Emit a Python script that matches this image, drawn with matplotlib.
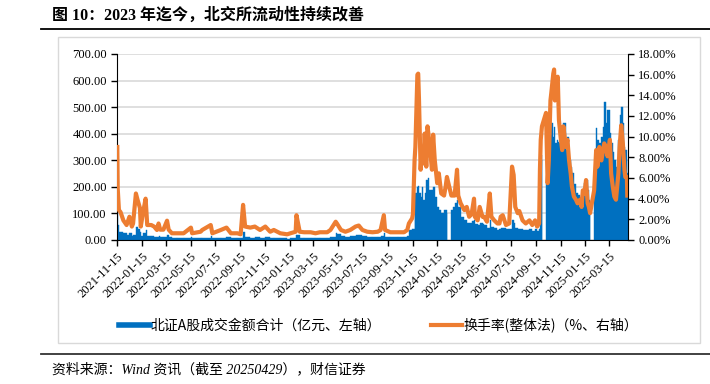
import pandas as pd
import matplotlib
matplotlib.use('Agg')
import matplotlib.pyplot as plt
from matplotlib.lines import Line2D
from matplotlib.patches import Rectangle
from matplotlib.ticker import FuncFormatter, MultipleLocator
import matplotlib.dates as mdates

plt.rcParams['font.family'] = ['Liberation Serif', 'Noto Sans CJK SC']

dates = [
    '2021-11-15', '2021-11-16', '2021-11-19', '2021-11-23', '2021-11-30', '2021-12-08', '2021-12-15',
    '2021-12-21', '2021-12-24', '2021-12-31', '2022-01-04', '2022-01-10', '2022-01-12', '2022-01-17',
    '2022-01-24', '2022-01-28', '2022-02-07', '2022-02-14', '2022-02-21', '2022-02-25', '2022-03-01',
    '2022-03-09', '2022-03-18', '2022-03-22', '2022-03-30', '2022-04-12', '2022-04-28', '2022-05-16',
    '2022-05-19', '2022-06-09', '2022-06-13', '2022-07-04', '2022-07-08', '2022-07-29', '2022-08-12',
    '2022-08-23', '2022-09-08', '2022-09-16', '2022-09-22', '2022-09-27', '2022-10-10', '2022-10-21',
    '2022-11-03', '2022-11-16', '2022-11-28', '2022-12-07', '2022-12-23', '2023-01-09', '2023-01-17',
    '2023-01-30', '2023-02-01', '2023-02-03', '2023-02-09', '2023-02-20', '2023-03-08', '2023-03-20',
    '2023-03-31', '2023-04-18', '2023-04-26', '2023-05-09', '2023-05-12', '2023-05-22', '2023-06-02',
    '2023-06-14', '2023-06-27', '2023-07-05', '2023-07-14', '2023-07-26', '2023-08-08', '2023-08-21',
    '2023-08-28', '2023-09-05', '2023-09-08', '2023-09-21', '2023-10-09', '2023-10-25', '2023-11-02',
    '2023-11-06', '2023-11-14', '2023-11-16', '2023-11-20', '2023-11-22', '2023-11-27', '2023-11-29',
    '2023-12-01', '2023-12-05', '2023-12-08', '2023-12-12', '2023-12-15', '2023-12-19', '2023-12-22',
    '2023-12-26', '2024-01-02', '2024-01-05', '2024-01-09', '2024-01-15', '2024-01-19', '2024-01-25',
    '2024-02-01', '2024-02-05', '2024-02-08', '2024-02-19', '2024-02-22', '2024-02-27', '2024-03-04',
    '2024-03-07', '2024-03-13', '2024-03-22', '2024-03-28', '2024-04-03', '2024-04-09', '2024-04-15',
    '2024-04-17', '2024-04-24', '2024-04-29', '2024-05-06', '2024-05-10', '2024-05-17', '2024-05-24',
    '2024-05-28', '2024-06-04', '2024-06-12', '2024-06-17', '2024-06-20', '2024-06-25', '2024-07-03',
    '2024-07-11', '2024-07-18', '2024-07-22', '2024-07-26', '2024-08-01', '2024-08-05', '2024-08-13',
    '2024-08-21', '2024-08-30', '2024-09-06', '2024-09-13', '2024-09-18', '2024-09-23', '2024-09-25',
    '2024-09-27', '2024-09-30', '2024-10-10', '2024-10-14', '2024-10-17', '2024-10-21', '2024-10-23',
    '2024-10-28', '2024-10-30', '2024-11-01', '2024-11-05', '2024-11-08', '2024-11-11', '2024-11-15',
    '2024-11-19', '2024-11-22', '2024-11-28', '2024-12-02', '2024-12-06', '2024-12-10', '2024-12-13',
    '2024-12-18', '2024-12-23', '2024-12-27', '2025-01-02', '2025-01-06', '2025-01-09', '2025-01-13',
    '2025-01-17', '2025-01-21', '2025-01-24', '2025-01-27', '2025-02-06', '2025-02-11', '2025-02-14',
    '2025-02-19', '2025-02-24', '2025-02-27', '2025-03-03', '2025-03-07', '2025-03-11', '2025-03-17',
    '2025-03-20', '2025-03-24', '2025-03-28', '2025-04-01', '2025-04-07', '2025-04-10', '2025-04-14',
    '2025-04-18', '2025-04-22', '2025-04-24', '2025-04-28', '2025-04-29',
]

# 北证A股成交金额合计 (亿元)
amount = [
    101, 55, 31, 30, 25, 18, 28,
    15, 18, 50, 40, 30, 15, 25,
    38, 15, 14, 12, 10, 15, 10,
    10, 20, 10, 8, 7, 7, 12,
    7, 8, 9, 14, 7, 9, 11,
    7, 7, 6, 30, 13, 9, 10,
    8, 10, 7, 8, 6, 5, 6,
    7, 20, 17, 7, 7, 7, 6,
    8, 9, 12, 25, 22, 15, 12,
    15, 18, 18, 14, 12, 10, 11,
    14, 25, 13, 10, 10, 10, 14,
    38, 40, 40, 120, 176, 200, 205,
    176, 163, 200, 150, 176, 226, 232,
    188, 188, 200, 160, 125, 113, 100,
    113, 113, 100, 113, 125, 138, 150,
    125, 88, 75, 63, 63, 70, 75,
    60, 57, 63, 60, 55, 44, 75,
    50, 44, 38, 40, 44, 45, 40,
    42, 75, 65, 45, 40, 42, 38,
    38, 40, 35, 40, 35, 40, 100,
    300, 320, 213, 213, 326, 389, 439,
    389, 426, 364, 376, 370, 364, 376,
    364, 439, 339, 389, 301, 276, 251,
    210, 176, 170, 163, 170, 176, 213,
    226, 190, 150, 125, 238, 420, 376,
    364, 389, 426, 520, 439, 489, 401,
    364, 330, 301, 276, 376, 470, 502,
    439, 351, 340, 301, 251,
]

# 换手率(整体法) (%)
turnover = [
    9.0, 5.0, 2.9, 2.7, 1.9, 1.45, 2.25,
    1.3, 1.6, 4.5, 3.9, 3.1, 1.3, 2.5,
    4.0, 1.45, 1.45, 1.3, 0.97, 1.6, 1.0,
    1.0, 1.87, 1.0, 0.65, 0.65, 0.65, 1.2,
    0.65, 0.8, 0.97, 1.45, 0.65, 0.97, 1.2,
    0.65, 0.65, 0.55, 3.4, 1.3, 1.2, 1.3,
    0.97, 1.3, 0.8, 0.97, 0.65, 0.55, 0.65,
    0.8, 2.4, 2.0, 0.8, 0.75, 0.75, 0.65,
    0.75, 0.75, 0.97, 1.77, 1.6, 0.97, 0.8,
    0.97, 1.3, 1.4, 0.97, 0.8, 0.75, 0.8,
    0.97, 2.4, 0.97, 0.75, 0.75, 0.75, 0.97,
    1.6, 2.1, 2.5, 7.7, 9.0, 16.0, 16.1,
    13.5, 6.8, 8.7, 7.4, 10.3, 7.1, 11.0,
    9.7, 6.8, 10.2, 7.7, 5.5, 6.45, 4.5,
    4.3, 5.2, 6.1, 4.3, 4.3, 4.3, 6.8,
    4.3, 3.55, 2.9, 3.2, 2.25, 2.5, 4.0,
    2.25, 1.9, 3.2, 2.25, 2.25, 1.77, 4.5,
    2.25, 1.9, 1.6, 1.6, 2.25, 2.4, 1.45,
    1.6, 7.1, 6.3, 3.2, 2.6, 2.8, 1.9,
    1.6, 1.9, 1.45, 1.9, 1.3, 1.6, 6.8,
    9.7, 11.0, 12.3, 5.5, 7.7, 13.5, 14.2,
    16.1, 16.5, 13.5, 15.2, 15.8, 11.6, 10.0,
    8.7, 11.0, 9.0, 9.7, 7.7, 6.45, 5.2,
    4.2, 3.9, 3.55, 3.9, 3.2, 4.8, 4.5,
    5.8, 3.55, 3.2, 2.6, 4.8, 8.7, 7.1,
    9.0, 7.7, 8.4, 9.35, 9.0, 8.1, 9.7,
    6.45, 5.2, 4.2, 3.9, 6.45, 9.0, 11.1,
    9.35, 6.8, 6.1, 6.1, 4.3,
]

# market closures that show up as gaps in the bars
closures = ['2024-02-09', '2024-10-01', '2025-01-28']

d = pd.to_datetime(dates)
cl = pd.to_datetime(closures)
nxt = list(d[1:]) + [d[-1] + pd.Timedelta(days=1)]
widths = []
for a, b in zip(d, nxt):
    end = b
    for c in cl:
        if a < c < b:
            end = c
    widths.append((end - a).days)

BLUE = '#0070C0'
ORANGE = '#ED7D31'

fig = plt.figure(figsize=(7.1, 3.84), dpi=100)

# frame, rules, title, source
fig.add_artist(Rectangle((58 / 710, 1 - 343 / 384), (700 - 58) / 710, (343 - 37) / 384,
                         transform=fig.transFigure, fill=False, edgecolor='#D9D9D9', lw=1))
fig.add_artist(Line2D([41 / 710, 1], [1 - 29 / 384] * 2, color='black', lw=1.3))
fig.add_artist(Line2D([41 / 710, 1], [1 - 354 / 384] * 2, color='#333333', lw=1.3))
fig.text(52 / 710, 1 - 16 / 384, '图 10：2023 年迄今，北交所流动性持续改善',
         fontsize=11.5, fontweight='bold', va='center')
fig.text(52 / 710, 1 - 369 / 384, '资料来源：Wind 资讯（截至 20250429），财信证券',
         fontsize=10, style='italic', va='center')

ax = fig.add_axes([117.3 / 710, 1 - 240 / 384, (627.7 - 117.3) / 710, (240 - 54) / 384])
ax.bar(d, amount, width=widths, align='edge', color=BLUE, edgecolor=BLUE, linewidth=0.3)
ax.set_ylim(0, 700)
ax.yaxis.set_major_locator(MultipleLocator(100))
ax.yaxis.set_major_formatter(FuncFormatter(lambda v, p: f'{v:.2f}'))
ax.grid(axis='y', color='#D9D9D9', lw=1.2)
ax.set_axisbelow(True)
ax.set_xlim(pd.Timestamp('2021-11-15'), pd.Timestamp('2025-04-30'))
ax.xaxis.set_major_locator(mdates.MonthLocator(bymonth=[1, 3, 5, 7, 9, 11], bymonthday=15))
ax.xaxis.set_major_formatter(mdates.DateFormatter('%Y-%m-%d'))
for lab in ax.get_xticklabels():
    lab.set_rotation(45)
    lab.set_ha('right')
    lab.set_rotation_mode('anchor')
ax.tick_params(axis='both', direction='out', length=4, width=1, labelsize=9, colors='black')
ax.spines['top'].set_visible(False)
ax.spines['right'].set_visible(False)

ax2 = ax.twinx()
ax2.plot(d, turnover, color=ORANGE, lw=3, solid_joinstyle='round')
ax2.set_ylim(0, 18)
ax2.yaxis.set_major_locator(MultipleLocator(2))
ax2.yaxis.set_major_formatter(FuncFormatter(lambda v, p: f'{v:.2f}%'))
ax2.tick_params(axis='y', direction='out', length=4, width=1, labelsize=9)
for s in ['top', 'left', 'bottom']:
    ax2.spines[s].set_visible(False)

handles = [Line2D([], [], color=BLUE, lw=4), Line2D([], [], color=ORANGE, lw=3)]
labels = ['北证A股成交金额合计（亿元、左轴）', '换手率(整体法)（%、右轴）']
fig.legend(handles, labels, loc='center left', bbox_to_anchor=(119 / 710, 1 - 325 / 384),
           ncol=2, frameon=False, prop={'family': ['Noto Sans CJK SC'], 'size': 10},
           handlelength=2.2, handletextpad=0.1, columnspacing=3.6, borderpad=0, borderaxespad=0)

fig.savefig('out.png', dpi=100)
